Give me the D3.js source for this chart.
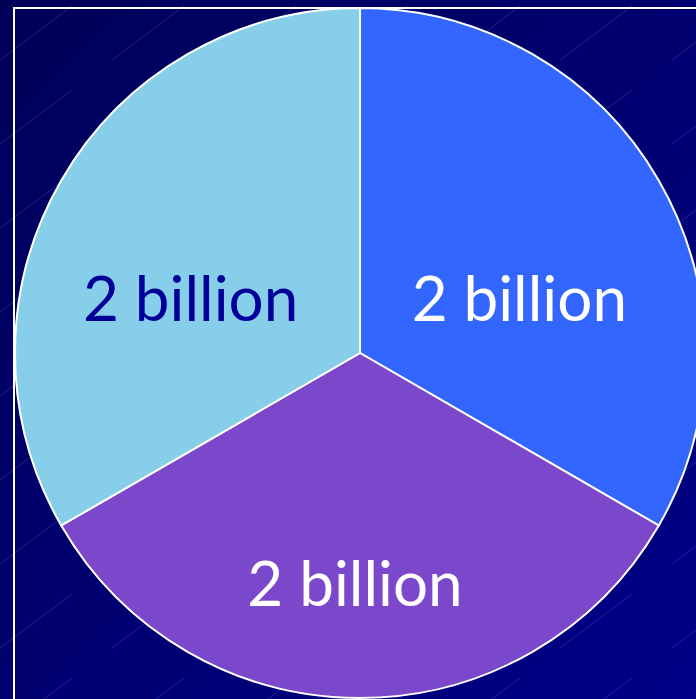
<!DOCTYPE html>
<html>
<head>
<meta charset="utf-8">
<script src="https://cdn.jsdelivr.net/npm/d3@7.9.0/dist/d3.min.js"></script>
<style>
  html, body { margin: 0; padding: 0; background: #000080; overflow: hidden; }
  svg { display: block; }
</style>
</head>
<body>
<svg id="chart" width="696" height="699"></svg>
<script>
// slice values (billions) and their labels, clockwise from 12 o'clock
const values = [2, 2, 2];
const labels = ['2 billion', '2 billion', '2 billion'];

const sliceColors = ['#3366ff', '#7b48cc', '#87ceeb'];
const labelColors = ['#ffffff', '#ffffff', '#000099'];

const width = 696, height = 699;
const cx = 360, cy = 353, radius = 345;

const svg = d3.select('#chart');
const defs = svg.append('defs');

// dark navy backdrop, a bit darker towards the top left
let grad = defs.append('linearGradient')
  .attr('id', 'bg').attr('x1', 0).attr('y1', 0).attr('x2', 1).attr('y2', 1);
grad.append('stop').attr('offset', '0%').attr('stop-color', '#000058');
grad.append('stop').attr('offset', '45%').attr('stop-color', '#00006e');
grad.append('stop').attr('offset', '100%').attr('stop-color', '#000088');

// faint diagonal streaks of the slide template
let pat = defs.append('pattern')
  .attr('id', 'streaks').attr('patternUnits', 'userSpaceOnUse')
  .attr('width', 112).attr('height', 84);
pat.append('line')
  .attr('x1', 0).attr('y1', 60).attr('x2', 72).attr('y2', 6)
  .attr('stroke', '#8c8cdc').attr('stroke-opacity', 0.3).attr('stroke-width', 0.8);

svg.append('rect').attr('width', width).attr('height', height).attr('fill', 'url(#bg)');
svg.append('rect').attr('width', width).attr('height', height).attr('fill', 'url(#streaks)');

// white frame, running off the right and bottom edges
svg.append('rect')
  .attr('x', 14).attr('y', 8)
  .attr('width', width + 20).attr('height', height + 20)
  .attr('fill', 'none').attr('stroke', '#ffffff').attr('stroke-width', 2);

let pie = d3.pie().sort(null).value(d => d);
let arcData = pie(values);

let arcGenerator = d3.arc().innerRadius(0).outerRadius(radius);
let labelArc = d3.arc().innerRadius(0).outerRadius(radius * 1.1);

let g = svg.append('g').attr('transform', `translate(${cx},${cy})`);

g.selectAll('path')
  .data(arcData)
  .join('path')
  .attr('d', arcGenerator)
  .attr('fill', (d, i) => sliceColors[i])
  .attr('stroke', '#ffffff')
  .attr('stroke-width', 2)
  .attr('stroke-linejoin', 'round');

g.selectAll('text')
  .data(arcData)
  .join('text')
  .attr('x', d => labelArc.centroid(d)[0] - 5)
  .attr('y', d => labelArc.centroid(d)[1] + 63)
  .attr('text-anchor', 'middle')
  .attr('font-family', 'Lato, "Liberation Sans", sans-serif')
  .attr('font-size', 62)
  .attr('fill', (d, i) => labelColors[i])
  .text((d, i) => labels[i]);
</script>
</body>
</html>
